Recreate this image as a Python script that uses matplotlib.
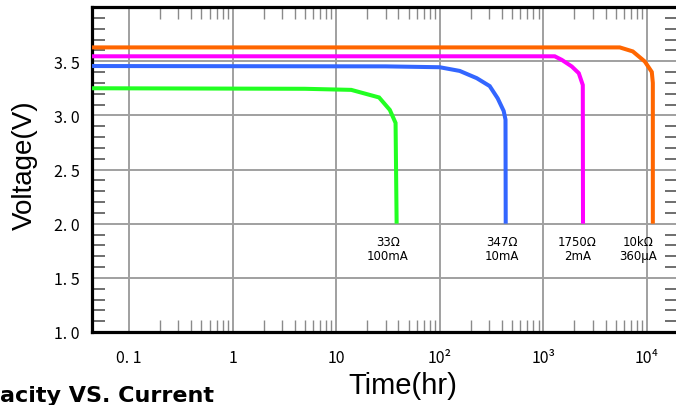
import matplotlib
matplotlib.use("Agg")
import matplotlib.pyplot as plt
from matplotlib.ticker import FixedLocator, NullFormatter

# ---- data ----
green_t = [0.044, 5, 14, 26, 33, 37.5, 38.4]
green_v = [3.25, 3.245, 3.235, 3.165, 3.05, 2.93, 2.0]

blue_t = [0.044, 30, 100, 156, 228, 304, 363, 415, 432, 434]
blue_v = [3.455, 3.452, 3.444, 3.41, 3.343, 3.27, 3.157, 3.04, 2.96, 2.0]

magenta_t = [0.044, 1291, 1510, 1885, 2203, 2409, 2420]
magenta_v = [3.545, 3.545, 3.512, 3.451, 3.389, 3.28, 2.0]

orange_t = [0.044, 5480, 7320, 9560, 11170, 11430, 11430]
orange_v = [3.627, 3.627, 3.59, 3.497, 3.40, 3.30, 2.0]

series_colors = ["#22ff22", "#3366ff", "#ff00ff", "#ff6600"]

label_res = ["33Ω", "347Ω", "1750Ω", "10kΩ"]
label_cur = ["100mA", "10mA", "2mA", "360μA"]
label_t = [31.5, 395, 2140, 8240]

xtick_vals = [0.1, 1, 10, 100, 1000, 10000]
xtick_labels = ["0. 1", "1", "10", "10²", "10³", "10⁴"]
ytick_vals = [1.0, 1.5, 2.0, 2.5, 3.0, 3.5]
ytick_labels = ["1. 0", "1. 5", "2. 0", "2. 5", "3. 0", "3. 5"]

x_minor = [m * d for d in [0.1, 1, 10, 100, 1000] for m in range(2, 10)]
y_minor = [round(1.0 + 0.1 * i, 1) for i in range(31) if i % 5 != 0]

# ---- figure ----
W, H = 676, 406
fig = plt.figure(figsize=(W / 100, H / 100), dpi=100)
ax = fig.add_axes([92 / W, (H - 333) / H, (678 - 92) / W, (333 - 8) / H])

ax.set_xscale("log")
ax.set_xlim(0.04395, 20000)
ax.set_ylim(1.0, 4.0)

for t, v, c in zip([green_t, blue_t, magenta_t, orange_t],
                   [green_v, blue_v, magenta_v, orange_v], series_colors):
    ax.plot(t, v, color=c, lw=2.9, solid_capstyle="butt",
            solid_joinstyle="miter", zorder=3)

# grid lines at major positions
for xv in xtick_vals:
    ax.axvline(xv, color="#a0a0a0", lw=1.4, zorder=1)
for yv in ytick_vals[1:]:
    ax.axhline(yv, color="#a0a0a0", lw=1.4, zorder=1)

tick_font = ["Noto Sans CJK JP", "DejaVu Sans"]
ax.xaxis.set_major_locator(FixedLocator(xtick_vals))
ax.set_xticklabels(xtick_labels)
ax.yaxis.set_major_locator(FixedLocator(ytick_vals))
ax.set_yticklabels(ytick_labels)
ax.xaxis.set_minor_locator(FixedLocator(x_minor))
ax.yaxis.set_minor_locator(FixedLocator(y_minor))
ax.xaxis.set_minor_formatter(NullFormatter())
ax.yaxis.set_minor_formatter(NullFormatter())

for lab in ax.get_xticklabels() + ax.get_yticklabels():
    lab.set_family(tick_font)
    lab.set_fontsize(11.5)
    lab.set_color("black")

ax.tick_params(axis="both", which="major", length=0)
ax.tick_params(axis="x", which="major", pad=12)
ax.tick_params(axis="y", which="major", pad=9)
ax.tick_params(axis="x", which="minor", direction="in", top=True, bottom=True,
               length=8.8, width=1.0, color="#8a8a8a")
ax.tick_params(axis="y", which="minor", direction="in", left=True, right=True,
               length=9.3, width=1.2, color="#555555")

for s in ["left", "bottom", "top"]:
    ax.spines[s].set_linewidth(2.3)
    ax.spines[s].set_color("black")
ax.spines["right"].set_visible(False)

# annotations
for t, r, cur in zip(label_t, label_res, label_cur):
    ax.text(t, 1.799, r, ha="center", va="baseline", fontsize=8.5,
            family="DejaVu Sans", zorder=4)
    ax.text(t, 1.676, cur, ha="center", va="baseline", fontsize=8.5,
            family="DejaVu Sans", zorder=4)

# axis titles
fig.text(25 / W, 1 - 165 / H, "Voltage(V)", rotation=90, ha="center",
         va="center", fontsize=20, family="Liberation Sans")
fig.text(403 / W, 1 - 386 / H, "Time(hr)", ha="center", va="center",
         fontsize=21, family="Liberation Sans")
fig.text(0, (H - 402) / H, "acity VS. Current", ha="left", va="baseline",
         fontsize=16, fontweight="bold", family="DejaVu Sans")

fig.savefig("out.png", dpi=100)
